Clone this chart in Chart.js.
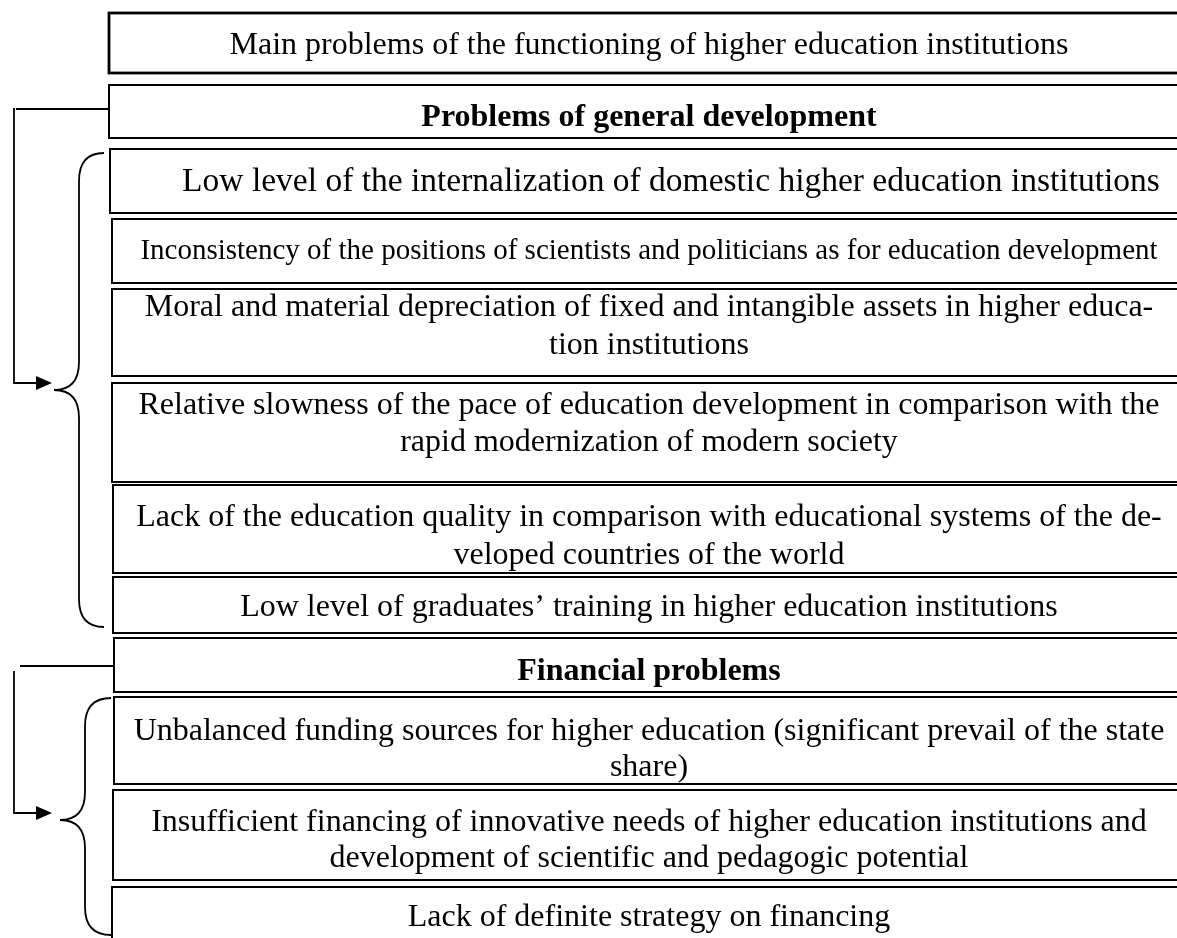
<!DOCTYPE html>
<html><head><meta charset="utf-8">
<script src="https://cdn.jsdelivr.net/npm/chart.js@4/dist/chart.umd.min.js"></script>
<style>html,body{margin:0;padding:0;background:#fff;overflow:hidden}</style>
</head><body>
<canvas id="c" width="1177" height="938"></canvas>
<script>
// ---- data (diagram units) ----
const boxTexts = [
  ["Main problems of the functioning of higher education institutions"],
  ["Problems of general development"],
  ["Low level of the internalization of domestic higher education institutions"],
  ["Inconsistency of the positions of scientists and politicians as for education development"],
  ["Moral and material depreciation of fixed and intangible assets in higher educa-", "tion institutions"],
  ["Relative slowness of the pace of education development in comparison with the", "rapid modernization of modern society"],
  ["Lack of the education quality in comparison with educational systems of the de-", "veloped countries of the world"],
  ["Low level of graduates\u2019 training in higher education institutions"],
  ["Financial problems"],
  ["Unbalanced funding sources for higher education (significant prevail of the state", "share)"],
  ["Insufficient financing of innovative needs of higher education institutions and", "development of scientific and pedagogic potential"],
  ["Lack of definite strategy on financing"]
];
const rowTop    = [13, 85, 149, 219, 289, 383, 485, 577, 638, 697, 790, 887];
const rowBottom = [73, 138, 213, 283, 376, 482, 573, 633, 692, 784, 880, 960];
const rowLeft   = [109, 109, 110, 112, 112, 112, 113, 113, 114, 114, 113, 112];
const headerRows = [1, 8];
const braceTop    = [153, 698];
const braceTip    = [390, 820];
const braceBottom = [627, 935];

// ---- layout / style (not data) ----
const rowRight = 1190;
const textCenter = i => (i === 2 ? 671 : 649);
const lineBaselines = [[54],[126],[191],[259],[316,354],[414,451],[526,564],[616],[680],[740,776],[831,867],[926]];
const rowStyle = i => ({
  bold: headerRows.includes(i),
  size: i === 3 ? 29 : (i === 2 ? 33.5 : 32),
  lw: i === 0 ? 2.8 : 2
});

const diagramPlugin = {
  id: 'diagram',
  afterDraw(chart) {
    const ctx = chart.ctx, X = v => chart.scales.x.getPixelForValue(v), Y = v => chart.scales.y.getPixelForValue(v);
    ctx.save();
    ctx.fillStyle = '#fff';
    ctx.fillRect(0, 0, chart.width, chart.height);
    ctx.strokeStyle = '#000'; ctx.fillStyle = '#000';
    boxTexts.forEach((lines, i) => {
      const st = rowStyle(i);
      const x0 = X(rowLeft[i]), x1 = X(rowRight), y0 = Y(rowTop[i]), y1 = Y(rowBottom[i]);
      ctx.lineWidth = st.lw;
      ctx.strokeRect(x0, y0, x1 - x0, y1 - y0);
      ctx.save();
      ctx.beginPath(); ctx.rect(x0 + 1, y0 + 1, x1 - x0 - 2, y1 - y0 - 2); ctx.clip();
      ctx.font = (st.bold ? 'bold ' : '') + st.size + 'px "Liberation Serif", "Times New Roman", serif';
      ctx.textBaseline = 'alphabetic';
      ctx.textAlign = 'center';
      lines.forEach((t, k) => ctx.fillText(t, X(textCenter(i)), Y(lineBaselines[i][k])));
      ctx.restore();
    });
    ctx.lineWidth = 1.8;
    headerRows.forEach((r, g) => {
      const yh = Y(g === 0 ? 109 : 666);
      const ya = Y(braceTip[g] - 7);
      ctx.beginPath();
      ctx.moveTo(X(g === 0 ? 16 : 20), yh); ctx.lineTo(X(rowLeft[r]), yh);
      ctx.moveTo(X(14), g === 0 ? yh - 1 : Y(671)); ctx.lineTo(X(14), ya); ctx.lineTo(X(38), ya);
      ctx.stroke();
      ctx.beginPath();
      ctx.moveTo(X(36), ya - 7); ctx.lineTo(X(52), ya); ctx.lineTo(X(36), ya + 7); ctx.closePath(); ctx.fill();
      const xe = X(g === 0 ? 104 : 111), xv = X(g === 0 ? 79 : 85), xt = X(g === 0 ? 54 : 60);
      const yt = Y(braceTop[g]), yp = Y(braceTip[g]), yb = Y(braceBottom[g]), rr = 28;
      ctx.beginPath();
      ctx.moveTo(xe, yt);
      ctx.quadraticCurveTo(xv, yt, xv, yt + rr);
      ctx.lineTo(xv, yp - rr);
      ctx.quadraticCurveTo(xv, yp, xt, yp);
      ctx.quadraticCurveTo(xv, yp, xv, yp + rr);
      ctx.lineTo(xv, yb - rr);
      ctx.quadraticCurveTo(xv, yb, xe, yb);
      ctx.stroke();
    });
    ctx.restore();
  }
};

new Chart(document.getElementById('c'), {
  type: 'scatter',
  data: { datasets: [{ data: [] }] },
  options: {
    responsive: false, animation: false, maintainAspectRatio: false,
    layout: { padding: 0 },
    plugins: { legend: { display: false }, tooltip: { enabled: false } },
    scales: {
      x: { type: 'linear', min: 0, max: 1177, display: false },
      y: { type: 'linear', min: 0, max: 938, reverse: true, display: false }
    }
  },
  plugins: [diagramPlugin]
});
</script>
</body></html>
